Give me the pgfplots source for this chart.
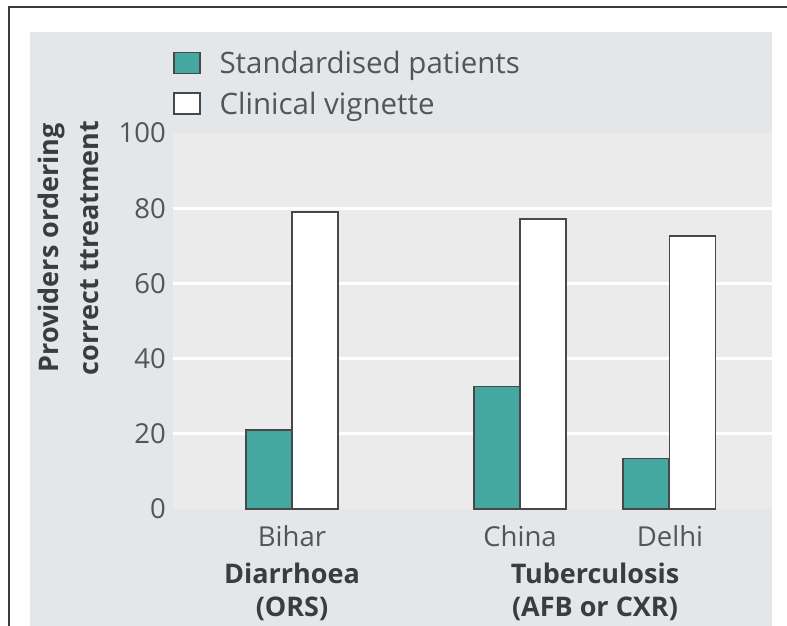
\documentclass[border=0pt]{standalone}
\usepackage{pgfplots}
\pgfplotsset{compat=1.18}
\usepackage{fontspec}
\setmainfont{Open Sans}
\definecolor{tealbar}{RGB}{69,168,160}
\definecolor{outl}{RGB}{72,72,72}
\definecolor{panelbg}{RGB}{228,231,234}
\definecolor{plotbg}{RGB}{235,235,235}
\definecolor{txt}{RGB}{85,85,85}
\definecolor{txtb}{RGB}{60,60,60}
\definecolor{framec}{RGB}{60,60,60}
\begin{document}
\begin{tikzpicture}
\useasboundingbox (0,0) rectangle (787pt,626pt);
\fill[panelbg] (30pt,0pt) rectangle (772pt,594pt);
\draw[framec, line width=2pt] (9pt,0pt) -- (9pt,619pt) -- (787pt,619pt);
\begin{axis}[
  at={(173pt,117pt)}, anchor=south west,
  scale only axis, width=599pt, height=376pt,
  xmin=173, xmax=772, ymin=0, ymax=100,
  axis background/.style={fill=plotbg},
  axis line style={draw=none},
  major tick length=0pt,
  tick style={draw=none},
  ytick={20,40,60,80},
  extra y ticks={0,100},
  extra y tick style={grid=none},
  ymajorgrids,
  grid style={white, line width=3pt},
  xtick={292,520,670},
  xticklabels={Bihar,China,Delhi},
  /pgf/number format/assume math mode=true,
  tick label style={font=\fontsize{27.5}{32}\selectfont, text=txt, inner sep=0pt},
  yticklabel style={anchor=east, xshift=-7pt},
  xticklabel style={anchor=north, yshift=-16pt},
  ybar, bar shift=0pt, bar width=46,
  clip=false,
  legend style={draw=none, fill=none, at={(0,1.218)}, anchor=north west,
    font=\fontsize{29.5}{34}\selectfont, text=txt, inner sep=0pt, row sep=17pt,
    nodes={inner sep=0pt},
    /tikz/every odd column/.append style={column sep=19pt}},
  legend cell align=left,
  legend image code/.code={\draw[#1] (0pt,-10pt) rectangle (26pt,11pt);},
]
\addplot[fill=tealbar, draw=outl, line width=1.3pt] coordinates {(269,21) (497,32.6) (646,13.5)};
\addlegendentry{Standardised patients}
\addplot[fill=white, draw=outl, line width=1.3pt] coordinates {(315,79) (543,77.1) (692.5,72.6)};
\addlegendentry{Clinical vignette}
\end{axis}
\begin{scope}[every node/.style={font=\fontsize{27}{32}\selectfont\bfseries, text=txtb, inner sep=0pt, anchor=base}]
\node at (292pt,42pt) {Diarrhoea};
\node at (292pt,9pt) {(ORS)};
\node at (595pt,42pt) {Tuberculosis};
\node at (595pt,9pt) {(AFB or CXR)};
\end{scope}
\node[rotate=90, align=center, text=txtb, inner sep=0pt,
  font=\fontsize{27}{40}\selectfont\bfseries] at (68pt,378pt)
  {Providers ordering\\correct ttreatment};
\end{tikzpicture}
\end{document}
